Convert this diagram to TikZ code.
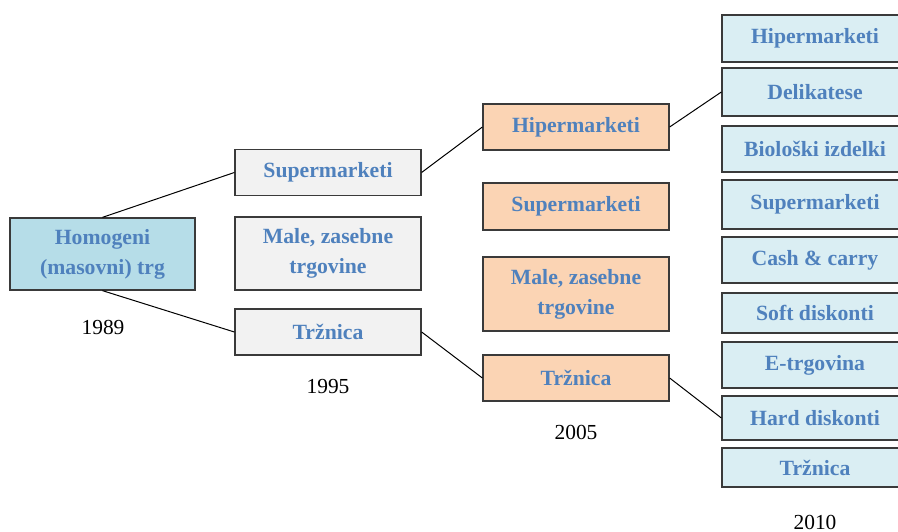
\documentclass[tikz,border=0pt]{standalone}
\usepackage{fontspec}
\setmainfont{Liberation Serif}
\definecolor{txtblue}{HTML}{4F81BD}
\definecolor{fillaqua}{HTML}{B6DDE8}
\definecolor{fillaqualight}{HTML}{DAEEF3}
\definecolor{fillorange}{HTML}{FBD4B4}
\definecolor{fillgray}{HTML}{F2F2F2}
\definecolor{boxline}{HTML}{3A3A3A}
\begin{document}
\begin{tikzpicture}[x=1bp,y=-1bp,
  box/.style={draw=boxline, line width=1.3bp, minimum width=186bp, inner sep=0pt,
    align=center, text=txtblue, font=\fontsize{21.8}{30}\selectfont\bfseries},
  boxA/.style={box, fill=fillaqua},
  boxB/.style={box, fill=fillgray},
  boxC/.style={box, fill=fillorange},
  boxD/.style={box, fill=fillaqualight},
  year/.style={font=\fontsize{21.5}{26}\selectfont, text=black, inner sep=0pt},
  link/.style={draw=black, line width=1bp}]
\useasboundingbox (0,0) rectangle (898,532);
\clip (0,0) rectangle (898,532);
% column 1
\node[boxA, minimum width=185bp, minimum height=72bp] (h) at (102.5,254) {Homogeni\\(masovni) trg};
\node[year] (y1) at (103,327) {1989};
% column 2
\node[boxB, minimum height=46bp] (bs) at (328,172.5) {Supermarketi};
\node[boxB, minimum height=73bp] (bm) at (328,253.5) {Male, zasebne\\trgovine};
\node[boxB, minimum height=46bp] (bt) at (328,332) {Tržnica};
\node[year] (y2) at (328,387) {1995};
% column 3
\node[boxC, minimum height=46bp] (ch) at (576,127) {Hipermarketi};
\node[boxC, minimum height=47bp] (cs) at (576,206.5) {Supermarketi};
\node[boxC, minimum height=74bp] (cm) at (576,294) {Male, zasebne\\trgovine};
\node[boxC, minimum height=46bp] (ct) at (576,378) {Tržnica};
\node[year] (y3) at (576,432) {2005};
% column 4
\node[boxD, minimum height=47bp] (dh) at (815,38.5) {Hipermarketi};
\node[boxD, minimum height=48bp] (dd) at (815,92) {Delikatese};
\node[boxD, minimum height=46bp] (db) at (815,149) {Biološki izdelki};
\node[boxD, minimum height=49bp] (ds) at (815,204.5) {Supermarketi};
\node[boxD, minimum height=46bp] (dc) at (815,260) {Cash \& carry};
\node[boxD, minimum height=40bp] (dso) at (815,313) {Soft diskonti};
\node[boxD, minimum height=46bp] (de) at (815,365) {E-trgovina};
\node[boxD, minimum height=44bp] (dhd) at (815,418) {Hard diskonti};
\node[boxD, minimum height=39bp] (dt) at (815,467.5) {Tržnica};
\node[year] (y4) at (815,522) {2010};
% connectors
\draw[link] (h.north) -- (bs.west);
\draw[link] (h.south) -- (bt.west);
\draw[link] (bs.east) -- (ch.west);
\draw[link] (bt.east) -- (ct.west);
\draw[link] (ch.east) -- (dd.west);
\draw[link] (ct.east) -- (dhd.west);
\end{tikzpicture}
\end{document}
